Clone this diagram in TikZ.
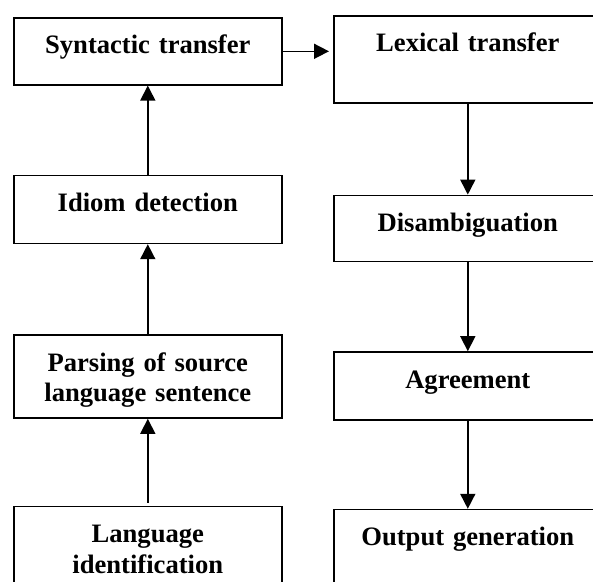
\documentclass[tikz,border=0pt]{standalone}
\usepackage{fontspec}
\setmainfont{Liberation Serif}
\usetikzlibrary{shapes,arrows.meta,positioning}
\tikzstyle{block} = [rectangle, draw, line width=1.6pt, text width=250pt, minimum width=268pt, inner sep=0pt, align=center, text height=36pt, font=\bfseries\fontsize{26.6}{30.5}\selectfont]
\tikzstyle{line} = [draw, line width=1.6pt, -{Triangle[length=15pt,width=15pt]}]

\begin{document}
\begin{tikzpicture}[x=1pt, y=-1pt, node distance=89pt]
   \useasboundingbox (0,0) rectangle (593,581);
   \node[block, text depth=31pt, anchor=north west] (a) at (13,17) {Syntactic transfer};
   \node[block, text depth=32pt, below=of a] (b) {Idiom detection};
   \node[block, text depth=47pt, below=90pt of b] (c) {Parsing of source\\language sentence};
   \node[block, text depth=47pt, below=87pt of c] (d) {Language\\identification};
   \node[block, text depth=51pt, anchor=north west] (e) at (333,15) {Lexical transfer};
   \node[block, text depth=30pt, below=91pt of e] (f) {Disambiguation};
   \node[block, text depth=32pt, below=of f] (g) {Agreement};
   \node[block, text depth=52pt, below=88pt of g] (h) {Output generation};
   \draw[line, shorten >=4pt] (a.east) -- (a.east -| e.west);
   \draw[line, shorten <=3pt] (d) -- (c);
   \draw[line] (c) -- (b);
   \draw[line] (b) -- (a);
   \draw[line] (e) -- (f);
   \draw[line] (f) -- (g);
   \draw[line] (g) -- (h);
\end{tikzpicture}
\end{document}
